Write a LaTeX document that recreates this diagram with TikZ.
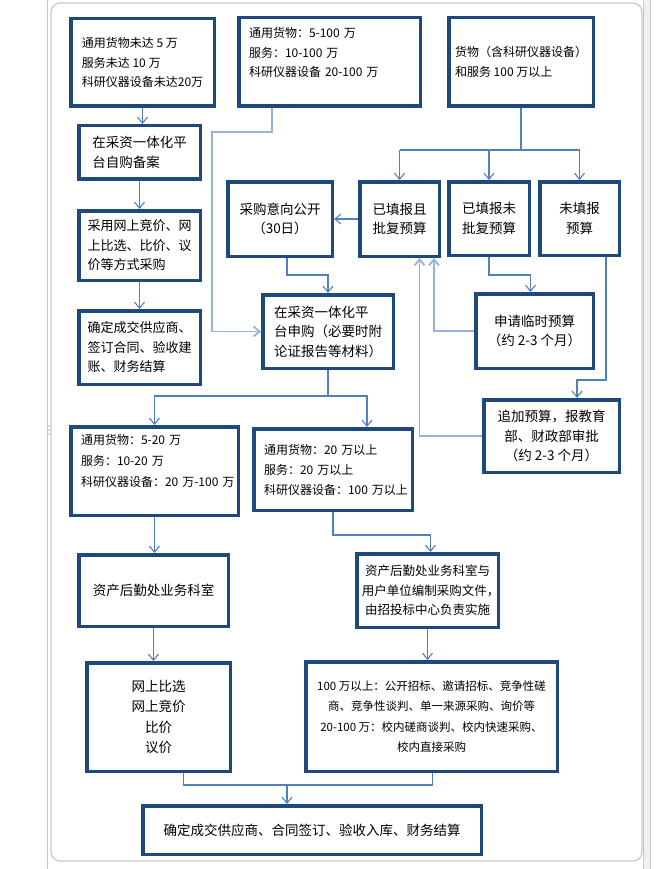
\documentclass[tikz,border=0pt]{standalone}
\usepackage{fontspec}
\setmainfont{Noto Sans CJK SC}
\usetikzlibrary{arrows.meta,calc}
\definecolor{boxc}{HTML}{1F497D}
\definecolor{linec}{HTML}{4F81BD}
\definecolor{lightc}{HTML}{95B3D7}
\definecolor{pagec}{HTML}{C8C8C8}
\newcommand\bx[7]{\node[box,#6,minimum width={#4-#2-3.5},minimum height={#5-#3-3.5}] (#1) at ({(#2+#4)/2},{(#3+#5)/2}) {#7};}
\newcommand\hcomma{\makebox[0.5em][l]{，}}
\begin{document}
\begin{tikzpicture}[x=1pt,y=-1pt,
  box/.style={draw=boxc,line width=3.5pt,fill=white,inner sep=0pt,align=center,font=\fontsize{13.5}{19.5}\selectfont},
  sm/.style={font=\fontsize{12}{19.5}\selectfont},
  md/.style={font=\fontsize{13}{19.5}\selectfont},
  conn/.style={draw=linec,line width=1.1pt},
  arr/.style={conn,-{Straight Barb[length=6pt,width=10pt]}},
  lconn/.style={draw=lightc,line width=1.8pt},
  larr/.style={lconn,-{Straight Barb[length=6pt,width=10pt]}}]
\useasboundingbox (0,0) rectangle (666,869);
% page frame
\draw[pagec,line width=1.2pt,rounded corners=9pt] (51,3) rectangle (642,861);
\fill[gray!12] (643,0) rectangle (650,869);
\draw[pagec,line width=0.6pt] (643,0) -- (643,869) (650,0) -- (650,869);
\draw[pagec,line width=0.6pt] (47,0) -- (47,869);
\foreach \yy in {426,430,434} \fill[gray!60] (49,\yy) circle (0.8);
% boxes
\bx{A}{69}{17}{216}{108}{sm,align=left}{通用货物未达~5~万\\服务未达~10~万\\科研仪器设备未达20万}
\bx{B}{237}{16}{422}{108}{sm,align=left,text width=161}{\mbox{通用货物：5-100~万}\\\mbox{服务：10-100~万}\\\mbox{科研仪器设备~20-100~万}\\\mbox{}}
\bx{C}{447}{16}{595}{108}{sm,align=left}{货物（含科研仪器设备）\\和服务~100~万以上}
\bx{D}{77}{124}{202}{181}{align=left}{在采资一体化平\\台自购备案}
\bx{E}{77}{209}{202}{282}{md,align=left}{采用网上竞价、网\\上比选、比价、议\\价等方式采购}
\bx{F}{77}{309}{202}{386}{md,align=left}{确定成交供应商、\\签订合同、验收建\\账、财务结算}
\bx{G}{226}{180}{334}{258}{}{采购意向公开\\（30日）}
\bx{H}{358}{180}{441}{258}{}{已填报且\\批复预算}
\bx{I}{447}{180}{531}{257}{}{已填报未\\批复预算}
\bx{J}{538}{180}{621}{257}{}{未填报\\预算}
\bx{K}{261}{293}{395}{370}{align=left}{在采资一体化平\\台申购（必要时附\\论证报告等材料）}
\bx{L}{474}{292}{595}{370}{}{申请临时预算\\（约~2-3~个月）}
\bx{M}{482}{398}{621}{474}{}{追加预算，报教育\\部、财政部审批\\（约~2-3~个月）}
\bx{N}{69}{425}{240}{517}{font=\fontsize{12}{21}\selectfont,align=left,text width=147}{\mbox{通用货物：5-20~万}\\\mbox{服务：10-20~万}\\\mbox{科研仪器设备：20~万-100~万}\\\mbox{}}
\bx{O}{252}{427}{414}{512}{font=\fontsize{12}{20}\selectfont,align=left,text width=138}{\mbox{通用货物：20~万以上}\\\mbox{服务：20~万以上}\\\mbox{科研仪器设备：100~万以上}}
\bx{P}{77}{553}{230}{628}{}{资产后勤处业务科室}
\bx{Q}{355}{552}{500}{629}{font=\fontsize{12.5}{19.5}\selectfont}{资产后勤处业务科室与\\用户单位编制采购文件\hcomma\\由招投标中心负责实施}
\bx{R}{304}{660}{559}{773}{font=\fontsize{11.5}{20.5}\selectfont}{100~万以上：公开招标、邀请招标、竞争性磋\\商、竞争性谈判、单一来源采购、询价等\\20-100~万：校内磋商谈判、校内快速采购、\\校内直接采购}
\bx{S}{85}{661}{232}{773}{font=\fontsize{13.5}{20.5}\selectfont}{网上比选\\网上竞价\\比价\\议价}
\bx{T}{141}{804}{483}{856}{}{确定成交供应商、合同签订、验收入库、财务结算}
% connectors
\draw[arr] (A.south) -- (A.south |- D.north);
\draw[arr] (D.south) -- (D.south |- E.north);
\draw[arr] (E.south) -- (E.south |- F.north);
\draw[larr] ([xshift=35pt]B.south west) -- ++(0,24) -| (212,300) |- (K.west);
\coordinate (cs) at (521,150);
\draw[conn] (C.south) -- (cs);
\draw[conn] (H.north |- cs) -- (J.north |- cs);
\draw[arr] (H.north |- cs) -- (H.north);
\draw[arr] (I.north |- cs) -- (I.north);
\draw[arr] (J.north |- cs) -- (J.north);
\draw[arr] (H.west) -- (G.east);
\draw[arr] ([xshift=7pt]G.south) -- ++(0,17) -| (K.north);
\draw[arr] (I.south) -- ++(0,18) -| ([xshift=-4pt]L.north);
\draw[larr] (L.west) -| ([xshift=-7pt]H.south east);
\draw[arr] ([xshift=-15pt]J.south east) -- ++(0,123) -| ([xshift=-44pt]M.north east);
\draw[larr] (M.west) -| ([xshift=20pt]H.south);
\draw[conn] (K.south) -- ++(0,26) coordinate (ks);
\draw[arr] (ks) -| (N.north);
\draw[arr] (ks) -| ([xshift=34pt]O.north);
\draw[arr] (N.south) -- (N.south |- P.north);
\draw[arr] (P.south) -- (P.south |- S.north);
\draw[arr] (O.south) -- ++(0,23) -| ([xshift=3pt]Q.north);
\draw[arr] (Q.south) -- (Q.south |- R.north);
\draw[conn] ([xshift=25pt]S.south) -- ++(0,12) coordinate (sm) -| ([xshift=1pt]R.south);
\coordinate (tj) at ([xshift=-25pt]T.north);
\draw[arr] (tj |- sm) -- (tj);
\end{tikzpicture}
\end{document}
